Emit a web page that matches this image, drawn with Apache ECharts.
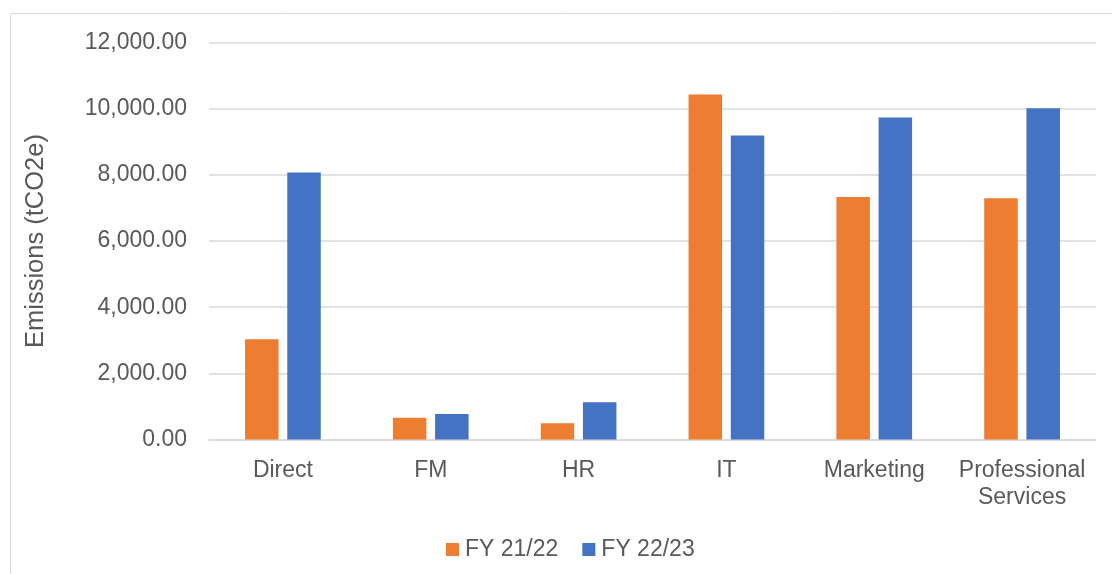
<!DOCTYPE html>
<html>
<head>
<meta charset="utf-8">
<script src="https://cdn.jsdelivr.net/npm/echarts@6/dist/echarts.min.js"></script>
<style>
html,body{margin:0;padding:0;background:#fff;}
#chart{width:1112px;height:574px;}
</style>
</head>
<body>
<div id="chart"></div>
<script>
const categories = ['Direct', 'FM', 'HR', 'IT', 'Marketing', 'Professional\nServices'];
const seriesNames = ['FY 21/22', 'FY 22/23'];
const fy2122 = [3030, 660, 490, 10430, 7330, 7290];
const fy2223 = [8070, 770, 1125, 9190, 9735, 10010];
const yTicks = { min: 0, max: 12000, interval: 2000 };

const chart = echarts.init(document.getElementById('chart'), null, {renderer: 'canvas'});
const txt = '#595959';
const font = 'Liberation Sans, Arial, sans-serif';
chart.setOption({
  animation: false,
  graphic: [{
    type: 'rect', silent: true,
    shape: { x: 10.5, y: 13.5, width: 1120, height: 580 },
    style: { fill: 'none', stroke: '#d9d9d9', lineWidth: 1 }
  }],
  grid: { left: 209, right: 16, top: 42.5, bottom: 134.5, containLabel: false },
  legend: {
    bottom: 8, left: 441,
    itemWidth: 13, itemHeight: 13, itemGap: 24,
    icon: 'rect',
    textStyle: { color: txt, fontSize: 23, fontFamily: font, padding: [0, 0, 0, 1] },
    data: seriesNames
  },
  xAxis: {
    type: 'category', data: categories,
    axisLine: { lineStyle: { color: '#d9d9d9', width: 1.5 } },
    axisTick: { show: false },
    axisLabel: { color: txt, fontSize: 23, fontFamily: font, margin: 18, lineHeight: 27, interval: 0 }
  },
  yAxis: {
    type: 'value', min: yTicks.min, max: yTicks.max, interval: yTicks.interval,
    name: 'Emissions (tCO2e)', nameLocation: 'middle', nameGap: 160,
    nameTextStyle: { color: txt, fontSize: 25.5, fontFamily: font },
    axisLine: { show: false }, axisTick: { show: false },
    splitLine: { lineStyle: { color: '#d9d9d9', width: 1.5 } },
    axisLabel: {
      color: txt, fontSize: 23, fontFamily: font, margin: 22,
      formatter: v => v.toLocaleString('en-US', {minimumFractionDigits: 2, maximumFractionDigits: 2})
    }
  },
  series: [
    { name: seriesNames[0], type: 'bar', data: fy2122, barWidth: 33.5, barGap: '26%',
      itemStyle: { color: '#ED7D31' } },
    { name: seriesNames[1], type: 'bar', data: fy2223, barWidth: 33.5, barGap: '26%',
      itemStyle: { color: '#4472C4' } }
  ]
});
</script>
</body>
</html>
